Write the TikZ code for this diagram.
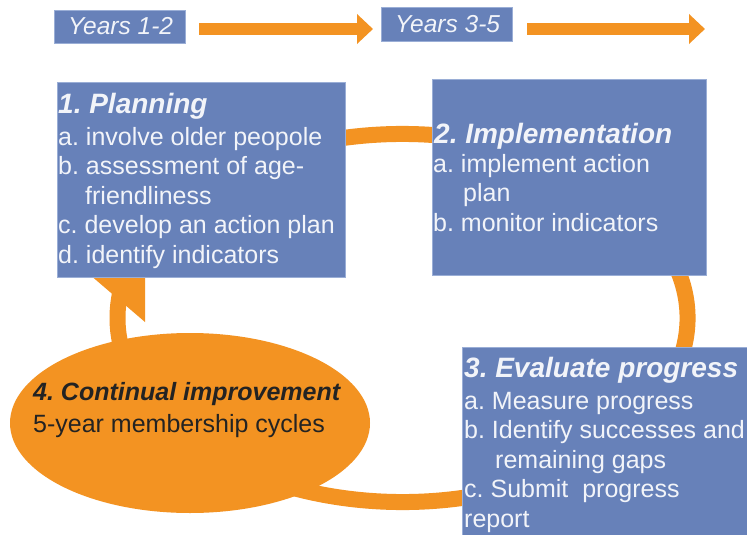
\documentclass[tikz,border=0pt]{standalone}
\usepackage{fontspec}
\setmainfont{Liberation Sans}
\usetikzlibrary{arrows.meta,shapes.geometric}
\definecolor{boxblue}{HTML}{6781B9}
\definecolor{boxedge}{HTML}{9AAED6}
\definecolor{ringorange}{HTML}{F39322}
\definecolor{boxtext}{HTML}{F2F4F9}
\definecolor{darktext}{HTML}{232323}
\frenchspacing
\begin{document}
\begin{tikzpicture}[x=1pt,y=-1pt,
  box/.style={fill=boxblue, draw=boxedge, line width=0.7pt, inner sep=0pt, anchor=north west},
  ttl/.style={anchor=base west, inner sep=0pt, text=boxtext, font=\fontsize{28}{32}\selectfont\bfseries\itshape},
  bodytxt/.style={anchor=base west, inner sep=0pt, text=boxtext, font=\fontsize{25}{29.5}\selectfont},
  yrtxt/.style={anchor=base west, inner sep=0pt, text=boxtext, font=\fontsize{24.5}{28}\selectfont\itshape},
  ovtitle/.style={anchor=base west, inner sep=0pt, text=darktext, font=\fontsize{25}{29.5}\selectfont\bfseries\itshape},
  ovtxt/.style={anchor=base west, inner sep=0pt, text=darktext, font=\fontsize{25}{29.5}\selectfont},
  ring/.style={draw=ringorange, line width=16pt},
  toparrow/.style={draw=ringorange, line width=12pt, -{Triangle[length=16pt,width=29pt]}}]
\useasboundingbox (0,0) rectangle (747,535);
\clip (0,0) rectangle (747,535);
\fill[white] (0,0) rectangle (747,535);

% big cycle ring with arrow head
\coordinate (rc) at (402.5,318);
\draw[ring] (rc) ++(-112:285 and 184) arc[start angle=-112,end angle=190,x radius=285,y radius=184];
\fill[ringorange] (145,322) -- (145,240) -- (75,262) -- cycle;

% years boxes and arrows
\node[box, minimum width=131pt, minimum height=33pt] (y12) at (54,10) {};
\node[yrtxt] (y12t) at (68,35) {Years 1-2};
\node[box, minimum width=131pt, minimum height=34pt] (y35) at (381,7) {};
\node[yrtxt] (y35t) at (395,33) {Years 3-5};
\coordinate (a1s) at (199,29);
\coordinate (a1e) at (373,29);
\coordinate (a2s) at (527,29);
\coordinate (a2e) at (705,29);
\draw[toparrow] (a1s) -- (a1e);
\draw[toparrow] (a2s) -- (a2e);

% step boxes
\node[box, minimum width=288pt, minimum height=195pt] (plan) at (57,82) {};
\node[box, minimum width=274pt, minimum height=196pt] (impl) at (432,79) {};
\node[box, minimum width=300pt, minimum height=200pt] (eval) at (462,347) {};
\node[ellipse, fill=ringorange, inner sep=0pt, minimum width=360pt, minimum height=180pt] (impr) at (190,423) {};

% texts
\node[ttl] (p0) at (58,113) {1. Planning};
\node[bodytxt] (p1) at (58,145) {a. involve older peopole};
\node[bodytxt] (p2) at (58,174.5) {b. assessment of age-};
\node[bodytxt] (p3) at (85,204) {friendliness};
\node[bodytxt] (p4) at (58,233.5) {c. develop an action plan};
\node[bodytxt] (p5) at (58,263) {d. identify indicators};

\node[ttl] (i0) at (434,143) {2. Implementation};
\node[bodytxt] (i1) at (433,172) {a. implement action};
\node[bodytxt] (i2) at (463,201.5) {plan};
\node[bodytxt] (i3) at (433,231) {b. monitor indicators};

\node[ttl] (e0) at (464,377) {3. Evaluate progress};
\node[bodytxt] (e1) at (464,409) {a. Measure progress};
\node[bodytxt] (e2) at (464,438.5) {b. Identify successes and};
\node[bodytxt] (e3) at (495,468) {remaining gaps};
\node[bodytxt] (e4) at (464,497.5) {c. Submit\ \ progress};
\node[bodytxt] (e5) at (464,527) {report};

\node[ovtitle] (c0) at (33,400) {4. Continual improvement};
\node[ovtxt] (c1) at (33,432) {5-year membership cycles};
\end{tikzpicture}
\end{document}
